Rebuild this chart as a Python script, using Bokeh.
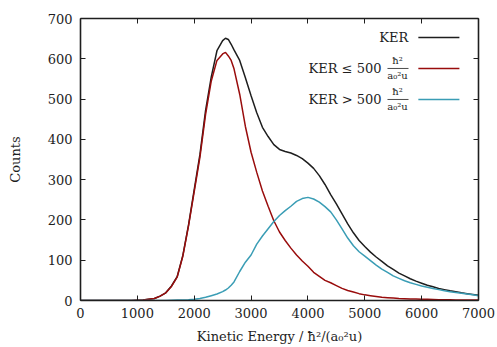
from bokeh.plotting import figure
from bokeh.models import LinearAxis, FixedTicker, Range1d, Label, Arrow
from bokeh.embed import file_html
from bokeh.resources import INLINE

# ---------------- data ----------------
energy = [0, 100, 200, 300, 400, 500, 600, 700, 800, 900,
          1000, 1100, 1200, 1300, 1400, 1500, 1600, 1700, 1800, 1900,
          2000, 2100, 2200, 2300, 2400, 2500, 2550, 2600, 2650, 2700,
          2800, 2900, 3000, 3100, 3200, 3300, 3400, 3500, 3600, 3700,
          3800, 3900, 4000, 4100, 4200, 4300, 4400, 4500, 4600, 4700,
          4800, 4900, 5000, 5100, 5200, 5300, 5400, 5500, 5600, 5700,
          5800, 5900, 6000, 6100, 6200, 6300, 6400, 6500, 6600, 6700,
          6800, 6900, 7000]

ker_total = [0, 0, 0, 0, 0, 0, 0, 0, 0, 0,
             0.5, 1, 3, 5, 11, 19, 36, 59, 112, 188,
             275, 362, 472, 555, 620, 645, 651, 648, 636, 622,
             596, 553, 508, 466, 430, 407, 387, 375, 370, 366,
             360, 352, 341, 328, 310, 288, 263, 240, 215, 190,
             168, 149, 134, 120, 108, 97, 86, 77, 68, 61,
             54, 48, 43, 38, 34, 30, 27, 24, 22, 19,
             17, 15, 13]

ker_low = [0, 0, 0, 0, 0, 0, 0, 0, 0, 0,
           0.5, 1, 3, 5, 11, 19, 35, 58, 110, 185,
           270, 355, 462, 545, 596, 612, 616, 607, 596, 575,
           512, 432, 368, 318, 272, 234, 198, 170, 149, 130,
           113, 98, 85, 70, 60, 50, 44, 37, 30, 25,
           21, 17, 14, 12, 10, 8, 7, 6, 5, 4.5,
           4, 3.5, 3, 3, 2.5, 2, 2, 2, 1.5, 1.5,
           1, 1, 1]

ker_high = [0, 0, 0, 0, 0, 0, 0, 0, 0, 0,
            0, 0, 0, 0, 0, 0, 0.5, 1, 1.5, 2,
            3, 5, 8, 12, 16, 22, 26, 31, 38, 46,
            72, 95, 113, 140, 160, 178, 196, 211, 223, 234,
            246, 253, 256, 252, 244, 233, 220, 200, 178, 155,
            136, 121, 110, 99, 88, 78, 70, 61, 55, 49,
            44, 40, 36, 33, 30, 27, 24, 22, 20, 18,
            16, 14, 12]

x_ticks = [0, 1000, 2000, 3000, 4000, 5000, 6000, 7000]
y_ticks = [0, 100, 200, 300, 400, 500, 600, 700]

FONT = "DejaVu Serif"
C_TOTAL = "#1e1e1e"
C_LOW = "#990c0c"
C_HIGH = "#3a9db5"

p = figure(width=497, height=347,
           x_range=Range1d(0, 7000), y_range=Range1d(0, 700),
           output_backend="svg", toolbar_location=None,
           min_border_left=80, min_border_right=19,
           min_border_top=18, min_border_bottom=47)
p.outline_line_color = None
p.grid.visible = False
p.background_fill_color = "white"
p.border_fill_color = "white"

p.add_layout(LinearAxis(), "right")
p.add_layout(LinearAxis(), "above")

for ax in p.xaxis:
    ax.ticker = FixedTicker(ticks=x_ticks)
for ax in p.yaxis:
    ax.ticker = FixedTicker(ticks=y_ticks)

for ax in p.axis:
    ax.major_tick_in = 5
    ax.major_tick_out = 0
    ax.minor_tick_line_color = None
    ax.axis_line_width = 1.6
    ax.axis_line_color = "#1e1e1e"
    ax.major_tick_line_color = "#1e1e1e"
    ax.major_label_text_font = FONT
    ax.major_label_text_font_size = "13px"
    ax.major_label_text_color = "#1e1e1e"
    ax.axis_label_text_font = FONT
    ax.axis_label_text_font_size = "13px"
    ax.axis_label_text_font_style = "normal"
    ax.axis_label_text_color = "#1e1e1e"

p.right[0].major_label_overrides = {t: "" for t in y_ticks}
p.above[0].major_label_overrides = {t: "" for t in x_ticks}
p.right[0].major_label_standoff = 0
p.above[0].major_label_standoff = 0

p.below[0].major_label_standoff = 7
p.below[0].axis_label = "Kinetic Energy / \u0127\u00b2/(a\u2080\u00b2u)"
p.below[0].axis_label_standoff = 8
p.left[0].major_label_standoff = 8
p.left[0].axis_label = "Counts"
p.left[0].axis_label_standoff = 22

# ---------------- curves ----------------
p.line(energy, ker_total, line_color=C_TOTAL, line_width=1.5)
p.line(energy, ker_low, line_color=C_LOW, line_width=1.5)
p.line(energy, ker_high, line_color=C_HIGH, line_width=1.5)


def frac(xc, y_num, y_bar, y_den, x0, x1, size="10px"):
    p.add_layout(Label(x=xc, y=y_num, text="\u0127\u00b2", text_align="center",
                       text_baseline="middle", text_font=FONT,
                       text_font_size=size, text_color="#1e1e1e"))
    p.add_layout(Arrow(start=None, end=None, x_start=x0, y_start=y_bar,
                       x_end=x1, y_end=y_bar, line_width=0.8,
                       line_color="#1e1e1e"))
    p.add_layout(Label(x=xc, y=y_den, text="a\u2080\u00b2u", text_align="center",
                       text_baseline="middle", text_font=FONT,
                       text_font_size=size, text_color="#1e1e1e"))


# ---------------- legend (manual) ----------------
legend_rows = [("KER", C_TOTAL, 653, False),
               ("KER \u2264 500", C_LOW, 576, True),
               ("KER > 500", C_HIGH, 499, True)]
for txt, col, yc, has_frac in legend_rows:
    p.add_layout(Arrow(start=None, end=None, x_start=5942, y_start=yc,
                       x_end=6664, y_end=yc, line_width=1.5, line_color=col))
    if has_frac:
        p.add_layout(Label(x=5294, y=yc, text=txt, text_align="right",
                           text_baseline="middle", text_font=FONT,
                           text_font_size="13px", text_color="#1e1e1e"))
        frac(5575, yc + 20, yc, yc - 18, 5399, 5769)
    else:
        p.add_layout(Label(x=5766, y=yc, text=txt, text_align="right",
                           text_baseline="middle", text_font=FONT,
                           text_font_size="13px", text_color="#1e1e1e"))

open("out.html", "w").write(file_html(p, INLINE))
